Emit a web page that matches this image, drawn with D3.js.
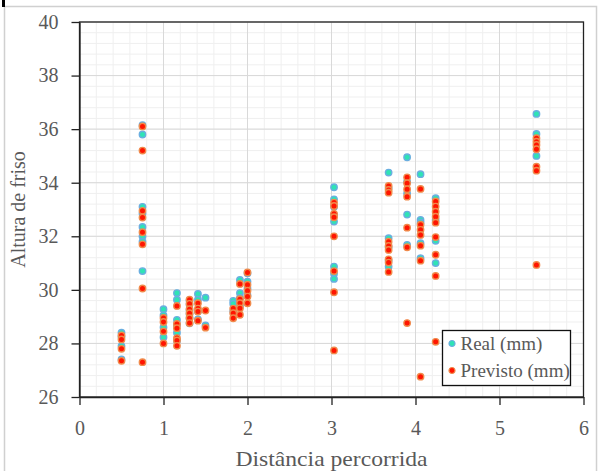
<!DOCTYPE html>
<html>
<head>
<meta charset="utf-8">
<script src="https://cdn.jsdelivr.net/npm/d3@7"></script>
<style>
	html, body { margin: 0; padding: 0; background: #fff; }
	svg text { font-family: "Liberation Serif", "Times New Roman", serif; fill: #595959; }
</style>
</head>
<body>
<svg id="chart" width="599" height="471"></svg>
<script>
// distances (x) of each group of measurements
const distancia = [0.5, 0.75, 1.0, 1.16, 1.31, 1.41, 1.5, 1.83, 1.91, 2.0, 3.03, 3.68, 3.9, 4.06, 4.24, 5.44];

// real heights, one list per distance
const real = [
	[28.4, 28.25, 27.9, 27.4],
	[36.15, 35.8, 33.1, 32.85, 32.35, 32.0, 31.8, 30.7],
	[29.28, 29.05, 28.6, 28.23],
	[29.88, 29.63, 28.88, 28.7, 28.4, 28.1],
	[29.6, 29.45, 29.25, 29.1, 28.95, 28.75],
	[29.85, 29.63, 29.2, 28.9],
	[29.71, 28.67],
	[29.59, 29.48, 29.2],
	[30.37, 29.88, 29.7, 29.4],
	[30.62, 30.31, 30.06, 29.8],
	[33.83, 33.38, 33.1, 32.8, 32.55, 30.87, 30.6, 30.41],
	[34.38, 33.8, 31.93, 31.6, 31.1, 30.87],
	[34.95, 34.04, 33.6, 32.81, 31.68],
	[34.32, 32.61, 32.51, 31.74, 31.18],
	[33.42, 32.61, 31.83, 31.0],
	[36.57, 35.82, 35.0]
];

// predicted heights, one list per distance
const previsto = [
	[28.3, 28.15, 27.8, 27.35],
	[36.1, 35.2, 32.95, 32.7, 32.15, 31.7, 30.05, 27.3],
	[28.95, 28.8, 28.45, 28.0],
	[29.4, 28.73, 28.57, 28.2, 28.11, 27.91],
	[29.63, 29.48, 29.28, 29.13, 28.94, 28.76],
	[29.5, 29.3, 29.19, 28.85],
	[29.23, 28.59],
	[29.3, 29.13, 28.94],
	[30.22, 29.65, 29.5, 29.31, 29.07],
	[30.65, 30.19, 29.97, 29.75, 29.5],
	[33.26, 33.13, 32.84, 32.71, 32.0, 30.7, 29.91, 27.74],
	[33.88, 33.73, 33.63, 31.8, 31.64, 31.49, 31.14, 31.02, 30.67],
	[34.2, 33.98, 33.76, 33.48, 32.32, 31.59, 28.76],
	[33.77, 32.43, 32.24, 32.05, 31.65, 31.09, 26.76],
	[33.3, 33.11, 32.92, 32.73, 32.51, 31.97, 31.31, 30.52, 28.06],
	[35.66, 35.53, 35.41, 35.25, 34.6, 34.45, 30.93]
];

const xTicks = [0, 1, 2, 3, 4, 5, 6];
const yTicks = [26, 28, 30, 32, 34, 36, 38, 40];
const series = ['Real (mm)', 'Previsto (mm)'];

const L = 79.5, R = 583.5, T = 22, B = 397;

function flatten(groups) {
	let pts = [];
	groups.forEach((g, i) => g.forEach(v => pts.push([distancia[i], v])));
	return pts;
}

function chart() {
	let svg = d3.select('#chart');
	let x = d3.scaleLinear().domain([0, 6]).range([L, R]);
	let y = d3.scaleLinear().domain([26, 40]).range([B, T]);

	// outer chart border + little mark at the corner
	svg.append('rect').attr('x', 4.5).attr('y', 6.5).attr('width', 592).attr('height', 480)
		.attr('fill', 'none').attr('stroke', '#d0d0d0').attr('stroke-width', 1.5);
	svg.append('rect').attr('x', 2).attr('y', 0).attr('width', 3).attr('height', 7).attr('fill', '#000');

	// grid
	let grid = svg.append('g');
	grid.selectAll('.vmin').data(d3.range(0, 6.0001, 0.2)).enter().append('line')
		.attr('x1', d => x(d)).attr('x2', d => x(d)).attr('y1', T).attr('y2', B)
		.attr('stroke', '#efefef').attr('stroke-width', 1);
	grid.selectAll('.hmin').data(d3.range(26, 40.0001, 0.4)).enter().append('line')
		.attr('y1', d => y(d)).attr('y2', d => y(d)).attr('x1', L).attr('x2', R)
		.attr('stroke', '#efefef').attr('stroke-width', 1);
	grid.selectAll('.vmaj').data(xTicks).enter().append('line')
		.attr('x1', d => x(d)).attr('x2', d => x(d)).attr('y1', T).attr('y2', B)
		.attr('stroke', '#d9d9d9').attr('stroke-width', 1);
	grid.selectAll('.hmaj').data(yTicks).enter().append('line')
		.attr('y1', d => y(d)).attr('y2', d => y(d)).attr('x1', L).attr('x2', R)
		.attr('stroke', '#d9d9d9').attr('stroke-width', 1);

	// frame
	svg.append('rect').attr('x', L).attr('y', T).attr('width', R - L).attr('height', B - T)
		.attr('fill', 'none').attr('stroke', '#222').attr('stroke-width', 1.3);

	let xAxis = d3.axisBottom(x).tickValues(xTicks).tickFormat(d3.format('d')).tickSize(8).tickSizeOuter(0).tickPadding(16);
	let yAxis = d3.axisLeft(y).tickValues(yTicks).tickFormat(d3.format('d')).tickSize(8).tickSizeOuter(0).tickPadding(13);
	let gx = svg.append('g').attr('transform', `translate(0,${B})`).call(xAxis);
	let gy = svg.append('g').attr('transform', `translate(${L},0)`).call(yAxis);
	[gx, gy].forEach(g => {
		g.select('.domain').attr('stroke', '#222').attr('stroke-width', 1.3);
		g.selectAll('.tick line').attr('stroke', '#222').attr('stroke-width', 1.3);
		g.selectAll('text').attr('font-size', 20).attr('fill', '#595959')
			.attr('font-family', '"Liberation Serif", serif');
	});

	// points
	svg.append('g').selectAll('circle').data(flatten(real)).enter().append('circle')
		.attr('cx', d => x(d[0])).attr('cy', d => y(d[1])).attr('r', 3.2)
		.attr('fill', '#2fe3b5').attr('stroke', '#6aaee0').attr('stroke-width', 1.4);
	svg.append('g').selectAll('circle').data(flatten(previsto)).enter().append('circle')
		.attr('cx', d => x(d[0])).attr('cy', d => y(d[1])).attr('r', 3.2)
		.attr('fill', '#ff1500').attr('stroke', '#f08a4b').attr('stroke-width', 1.4);

	// axis titles
	svg.append('text').attr('x', (L + R) / 2).attr('y', 466).attr('text-anchor', 'middle')
		.attr('font-size', 21).attr('textLength', 192).attr('lengthAdjust', 'spacingAndGlyphs')
		.text('Distância percorrida');
	svg.append('text').attr('transform', `translate(25,${(T + B) / 2}) rotate(-90)`)
		.attr('text-anchor', 'middle').attr('font-size', 20).text('Altura de friso');

	// legend
	let lg = svg.append('g');
	lg.append('rect').attr('x', 442.5).attr('y', 330.5).attr('width', 128).attr('height', 55)
		.attr('fill', '#fff').attr('stroke', '#111').attr('stroke-width', 1.3);
	let items = lg.selectAll('.item').data(series).enter().append('g')
		.attr('transform', (d, i) => `translate(452,${343.5 + i * 27})`);
	items.append('circle').attr('r', 3)
		.attr('fill', (d, i) => i ? '#ff1500' : '#2fe3b5')
		.attr('stroke', (d, i) => i ? '#f08a4b' : '#6aaee0').attr('stroke-width', 1.2);
	items.append('text').attr('x', 8.5).attr('y', 6).attr('font-size', 19).text(d => d);
}

chart();
</script>
</body>
</html>
